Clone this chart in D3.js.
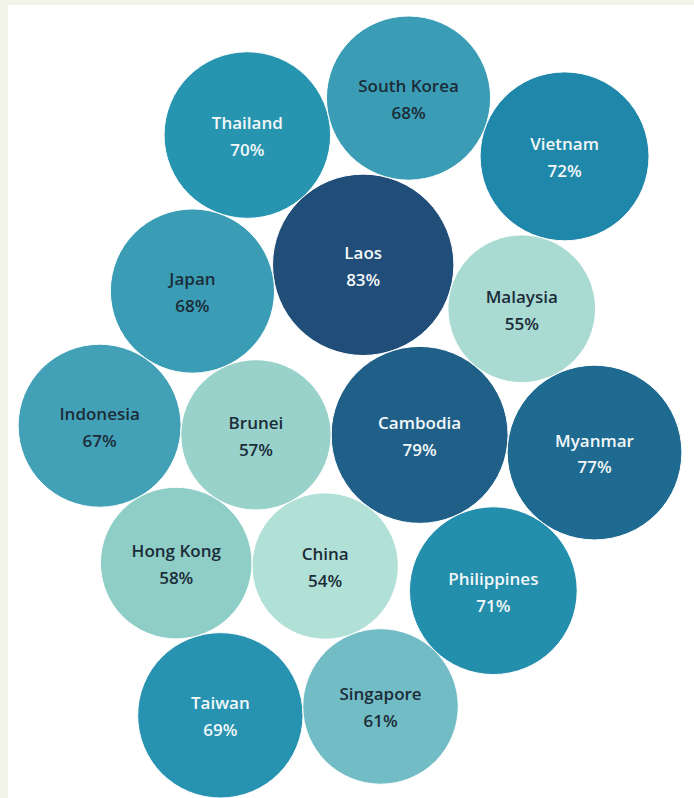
<!DOCTYPE html>
<html>
<head>
<meta charset="utf-8">
<script src="https://cdn.jsdelivr.net/npm/d3@7"></script>
<style>
  body { margin: 0; background: #f3f4e8; }
  svg { display: block; }
</style>
</head>
<body>
<svg id="chart"></svg>
<script>
// data
var countries = ["Laos", "Cambodia", "Myanmar", "Vietnam", "Philippines", "Thailand", "Taiwan",
  "South Korea", "Japan", "Indonesia", "Singapore", "Hong Kong", "Brunei", "Malaysia", "China"];
var shares = [83, 79, 77, 72, 71, 70, 69, 68, 68, 67, 61, 58, 57, 55, 54];

// packing recipe: first pair sits side by side, then each bubble is
// placed tangent to two bubbles already placed  [bubble, a, b]
var startPair = ["Brunei", "Cambodia"];
var packSteps = [
  ["China", "Brunei", "Cambodia"],
  ["Hong Kong", "Brunei", "China"],
  ["Indonesia", "Brunei", "Hong Kong"],
  ["Japan", "Brunei", "Indonesia"],
  ["Laos", "Cambodia", "Japan"],
  ["Thailand", "Laos", "Japan"],
  ["South Korea", "Laos", "Thailand"],
  ["Malaysia", "Cambodia", "Laos"],
  ["Myanmar", "Cambodia", "Malaysia"],
  ["Vietnam", "Malaysia", "South Korea"],
  ["Philippines", "Cambodia", "Myanmar"],
  ["Singapore", "China", "Philippines"],
  ["Taiwan", "Hong Kong", "Singapore"]
];

var svgWidth = 694, svgHeight = 798;
var panel = { left: 8, top: 5 };
var box = { left: 18, right: 682, top: 16, bottom: 798 };

var svg = d3.select("#chart")
  .attr("width", svgWidth)
  .attr("height", svgHeight);

svg.append("rect")
  .attr("width", svgWidth).attr("height", svgHeight)
  .attr("fill", "#f3f4e8");
svg.append("rect")
  .attr("x", panel.left).attr("y", panel.top)
  .attr("width", svgWidth - panel.left).attr("height", svgHeight - panel.top)
  .attr("fill", "#ffffff");

// unit layout (radius = sqrt of value, area ~ value)
var nodes = {};
var data = countries.map(function(c, i) {
  var n = { name: c, value: shares[i], r: Math.sqrt(shares[i]) };
  nodes[c] = n;
  return n;
});

function place(a, b, c) {
  var dx = b.x - a.x, dy = b.y - a.y, d = Math.hypot(dx, dy);
  var da = a.r + c.r, db = b.r + c.r;
  var t = (da * da - db * db + d * d) / (2 * d);
  var h = Math.sqrt(Math.max(0, da * da - t * t));
  c.x = a.x + (t * dx - h * dy) / d;
  c.y = a.y + (t * dy + h * dx) / d;
}

var first = nodes[startPair[0]], second = nodes[startPair[1]];
first.x = 0; first.y = 0;
second.x = first.r + second.r; second.y = 0;
packSteps.forEach(function(s) {
  place(nodes[s[1]], nodes[s[2]], nodes[s[0]]);
});

// fit into the view
var x0 = d3.min(data, d => d.x - d.r), x1 = d3.max(data, d => d.x + d.r);
var y0 = d3.min(data, d => d.y - d.r), y1 = d3.max(data, d => d.y + d.r);
var k = Math.min((box.right - box.left) / (x1 - x0), (box.bottom - box.top) / (y1 - y0));
var cx = (box.left + box.right) / 2, cy = (box.top + box.bottom) / 2;

var xScale = d3.scaleLinear()
  .domain([x0, x1])
  .range([cx - k * (x1 - x0) / 2, cx + k * (x1 - x0) / 2]);
var yScale = d3.scaleLinear()
  .domain([y0, y1])
  .range([cy - k * (y1 - y0) / 2, cy + k * (y1 - y0) / 2]);
var rScale = d3.scaleSqrt()
  .domain([0, 1])
  .range([0, k]);

var color = d3.scaleLinear()
  .domain([54, 58, 61, 68, 69, 70, 72, 77, 83])
  .range(["#b1e0d7", "#8fcdc7", "#72bcc5", "#3a9db5", "#2793b1", "#2895b0", "#1f87a9", "#1f6a90", "#214d79"])
  .interpolate(d3.interpolateRgb);

var bubble = svg.append("g")
  .selectAll("g")
  .data(data)
  .enter()
  .append("g")
  .attr("transform", d => `translate(${xScale(d.x)},${yScale(d.y)})`);

bubble.append("circle")
  .attr("r", d => rScale(d.value))
  .attr("fill", d => color(d.value))
  .attr("stroke", "#ffffff")
  .attr("stroke-width", 1);

var label = bubble.append("text")
  .attr("text-anchor", "middle")
  .attr("font-family", "'Open Sans', sans-serif")
  .attr("font-weight", 600)
  .attr("font-size", "17px")
  .attr("fill", d => d.value >= 69 ? "#f2f7f8" : "#1b2c38");

label.append("tspan")
  .attr("x", 0)
  .attr("y", -12)
  .attr("dy", "0.35em")
  .text(d => d.name);

label.append("tspan")
  .attr("x", 0)
  .attr("y", 15)
  .attr("dy", "0.35em")
  .text(d => d.value + "%");
</script>
</body>
</html>
